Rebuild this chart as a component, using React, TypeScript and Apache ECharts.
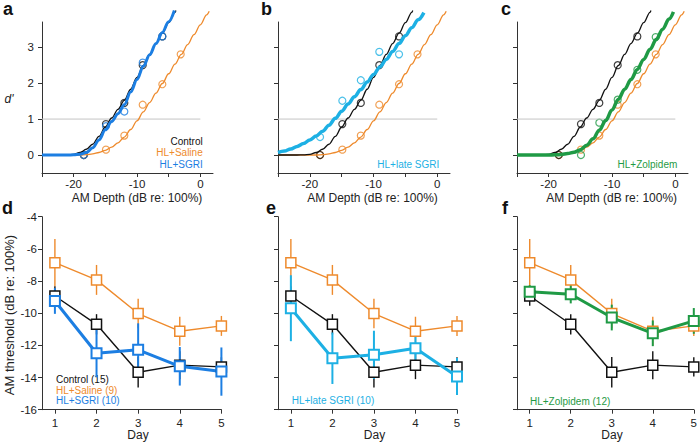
import React, { useEffect, useRef } from "react";
import * as echarts from "echarts";

// ---------- data ----------
const DEPTHS = [-18.4, -14.9, -12.0, -9.1, -6.0, -3.1];
const DP_CONTROL = [0.0, 0.86, 1.45, 2.5, 3.3];
const DP_SALINE = [0.0, 0.15, 0.54, 1.4, 1.97, 2.8];
const DP_SGRI = [0.0, 0.8, 1.21, 2.57, 3.3];
const DP_LATE = [0.5, 1.51, 2.08, 2.87, 2.8];
const DP_ZOL_DEPTHS = [-14.9, -12.0, -9.1, -6.0, -3.1];
const DP_ZOL = [0.0, 0.9, 1.54, 2.37, 3.28];

const FIT_CONTROL: number[][] = [[-25,0],[-22,0],[-21,0.004],[-20,0.02],[-19,0.07],[-18,0.16],[-17,0.3],[-16,0.52],[-15,0.78],[-14,1.03],[-13,1.27],[-12,1.52],[-11,1.83],[-10,2.16],[-9,2.49],[-8,2.8],[-7,3.1],[-6,3.39],[-5,3.68],[-4,3.97],[-3.85,4.02]];
const FIT_SALINE: number[][] = [[-25,0],[-19,0],[-18,0.01],[-17,0.03],[-16,0.07],[-15,0.13],[-14,0.22],[-13,0.34],[-12,0.5],[-11,0.71],[-10,0.95],[-9,1.2],[-8,1.46],[-7,1.72],[-6,1.99],[-5,2.26],[-4,2.53],[-3,2.8],[-2,3.07],[-1,3.35],[0,3.62],[1,3.9],[1.4,4.0]];
const FIT_SGRI: number[][] = [[-25,0],[-21,0],[-20,0.005],[-19,0.02],[-18,0.07],[-17,0.2],[-16,0.42],[-15,0.7],[-14,0.93],[-13,1.15],[-12,1.4],[-11,1.75],[-10,2.1],[-9,2.47],[-8,2.79],[-7,3.1],[-6,3.41],[-5,3.71],[-4.1,4.02]];
const FIT_LATE: number[][] = [[-25,0.07],[-24,0.11],[-23,0.17],[-22,0.24],[-21,0.32],[-20,0.42],[-19,0.53],[-18,0.66],[-17,0.83],[-16,1.02],[-15,1.22],[-14,1.42],[-13,1.62],[-12,1.82],[-11,2.03],[-10,2.24],[-9,2.45],[-8,2.66],[-7,2.88],[-6,3.1],[-5,3.32],[-4,3.54],[-3,3.76],[-2.1,3.96]];
const FIT_ZOL: number[][] = [[-25,0],[-20,0],[-19,0.005],[-18,0.015],[-17,0.04],[-16,0.08],[-15,0.15],[-14,0.27],[-13,0.45],[-12,0.69],[-11,0.96],[-10,1.25],[-9,1.55],[-8,1.83],[-7,2.1],[-6,2.38],[-5,2.66],[-4,2.94],[-3,3.22],[-2,3.5],[-1,3.78],[-0.3,3.98]];

const CRITERION = 1;
const CRIT_RANGE = [-25, 0];

const DAYS = [1, 2, 3, 4, 5];
const THR_CONTROL = [-8.93, -10.69, -13.67, -13.23, -13.34];
const ERR_CONTROL = [0.6, 0.63, 0.95, 0.87, 0.6];
const THR_SALINE = [-6.86, -7.93, -10.02, -11.12, -10.79];
const ERR_SALINE = [1.47, 0.93, 0.92, 0.9, 0.62];
const THR_SGRI = [-9.24, -12.49, -12.28, -13.3, -13.63];
const ERR_SGRI = [0.8, 1.5, 1.65, 1.2, 1.5];
const THR_LATE = [-9.69, -12.8, -12.59, -12.18, -13.94];
const ERR_LATE = [2.05, 1.6, 1.5, 0.9, 1.15];
const THR_ZOL = [-8.66, -8.82, -10.27, -11.25, -10.48];
const ERR_ZOL = [0.4, 0.57, 0.8, 0.8, 0.8];

const X_TICKS_TOP = [-25, -20, -15, -10, -5, 0];
const X_LABELS_TOP = [-20, -10, 0];
const Y_TICKS_TOP = [0, 1, 2, 3];

// ---------- style ----------
const FONT = "'Liberation Sans', Arial, sans-serif";
const BLACK = "#111111";
const ORANGE = "#EE8A2C";
const BLUE = "#1C7EE2";
const CYAN = "#1DB0E4";
const GREEN = "#1F9A45";
const AXIS = "#333333";

const zip = (xs: number[], ys: number[]) => ys.map((y, i) => [xs[i], y]);

function buildOption() {
  const grids = [
    { left: 42, top: 22, width: 171, height: 151 },
    { left: 278, top: 22, width: 172, height: 151 },
    { left: 517, top: 22, width: 171, height: 151 },
    { left: 42, top: 216.7, width: 179.4, height: 193 },
    { left: 278, top: 216.7, width: 179, height: 193 },
    { left: 517, top: 216.7, width: 178.5, height: 193 },
  ];
  const axisLine = { show: true, onZero: false, lineStyle: { color: AXIS, width: 1 } };
  const labelStyle = { fontSize: 11.5, color: "#222", fontFamily: FONT };

  const xAxis: any[] = [];
  const yAxis: any[] = [];
  for (let i = 0; i < 3; i++) {
    xAxis.push({
      gridIndex: i, type: "value", min: -25, max: 2,
      axisLine, splitLine: { show: false },
      axisTick: { show: true, customValues: X_TICKS_TOP, length: 4, lineStyle: { color: AXIS } },
      axisLabel: { show: true, customValues: X_LABELS_TOP, margin: 5, ...labelStyle },
    });
    yAxis.push({
      gridIndex: i, type: "value", min: -0.5, max: 3.7,
      axisLine, splitLine: { show: false },
      axisTick: { show: true, customValues: Y_TICKS_TOP, length: 4, lineStyle: { color: AXIS } },
      axisLabel: { show: i === 0, customValues: Y_TICKS_TOP, margin: 8, ...labelStyle },
    });
  }
  for (let i = 3; i < 6; i++) {
    xAxis.push({
      gridIndex: i, type: "value", min: 0.69, max: 5,
      axisLine, splitLine: { show: false },
      axisTick: { show: true, customValues: DAYS, length: 4, lineStyle: { color: AXIS } },
      axisLabel: { show: true, customValues: DAYS, margin: 7, ...labelStyle },
    });
    yAxis.push({
      gridIndex: i, type: "value", min: -16, max: -4, interval: 2,
      axisLine, splitLine: { show: false },
      axisTick: { show: true, length: 4, lineStyle: { color: AXIS } },
      axisLabel: { show: i === 3, margin: 5, ...labelStyle },
    });
  }

  const series: any[] = [];
  const curve = (idx: number, data: number[][], color: string, width: number) =>
    series.push({
      type: "line", xAxisIndex: idx, yAxisIndex: idx, data, smooth: 0.35, smoothMonotone: "x",
      symbol: "none", showSymbol: false, clip: false, silent: true,
      lineStyle: { color, width },
    });
  const pts = (idx: number, xs: number[], ys: number[], color: string) =>
    series.push({
      type: "scatter", xAxisIndex: idx, yAxisIndex: idx, data: zip(xs, ys), symbol: "circle",
      symbolSize: 7, clip: false, silent: true,
      itemStyle: { color: "rgba(255,255,255,0)", borderColor: color, borderWidth: 1.2 },
    });
  const crit = (idx: number) =>
    series.push({
      type: "line", xAxisIndex: idx, yAxisIndex: idx, symbol: "none", silent: true,
      data: CRIT_RANGE.map((x) => [x, CRITERION]),
      lineStyle: { color: "#c4c4c4", width: 1 },
    });
  const group = (idx: number, vals: number[], errs: number[], color: string, lw: number, ew: number, bw: number) => {
    series.push({
      type: "custom", xAxisIndex: idx, yAxisIndex: idx, silent: true, clip: false,
      data: DAYS.map((d, i) => [d, vals[i] - errs[i], vals[i] + errs[i]]),
      encode: { x: 0, y: [1, 2] },
      renderItem: (_p: any, api: any) => {
        const lo = api.coord([api.value(0), api.value(1)]);
        const hi = api.coord([api.value(0), api.value(2)]);
        return {
          type: "line",
          shape: { x1: lo[0], y1: lo[1], x2: hi[0], y2: hi[1] },
          style: { stroke: color, lineWidth: ew },
        };
      },
    });
    series.push({
      type: "line", xAxisIndex: idx, yAxisIndex: idx, silent: true, clip: false,
      data: zip(DAYS, vals), symbol: "rect", symbolSize: 10, showSymbol: true,
      itemStyle: { color: "#ffffff", borderColor: color, borderWidth: bw },
      lineStyle: { color, width: lw },
    });
  };

  // panel a
  crit(0);
  curve(0, FIT_SALINE, ORANGE, 1.3);
  curve(0, FIT_CONTROL, BLACK, 1.3);
  curve(0, FIT_SGRI, BLUE, 3);
  pts(0, DEPTHS, DP_SALINE, ORANGE);
  pts(0, DEPTHS, DP_CONTROL, BLACK);
  pts(0, DEPTHS, DP_SGRI, BLUE);
  // panel b
  crit(1);
  curve(1, FIT_SALINE, ORANGE, 1.3);
  curve(1, FIT_CONTROL, BLACK, 1.3);
  curve(1, FIT_LATE, CYAN, 3.5);
  pts(1, DEPTHS, DP_SALINE, ORANGE);
  pts(1, DEPTHS, DP_CONTROL, BLACK);
  pts(1, DEPTHS, DP_LATE, CYAN);
  // panel c
  crit(2);
  curve(2, FIT_SALINE, ORANGE, 1.3);
  curve(2, FIT_CONTROL, BLACK, 1.3);
  curve(2, FIT_ZOL, GREEN, 3.5);
  pts(2, DEPTHS, DP_SALINE, ORANGE);
  pts(2, DP_ZOL_DEPTHS, DP_ZOL, GREEN);
  pts(2, DEPTHS, DP_CONTROL, BLACK);
  // panel d
  group(3, THR_SALINE, ERR_SALINE, ORANGE, 1.4, 1.4, 1.5);
  group(3, THR_CONTROL, ERR_CONTROL, BLACK, 1.4, 1.4, 1.5);
  group(3, THR_SGRI, ERR_SGRI, BLUE, 3, 2, 2);
  // panel e
  group(4, THR_SALINE, ERR_SALINE, ORANGE, 1.4, 1.4, 1.5);
  group(4, THR_CONTROL, ERR_CONTROL, BLACK, 1.4, 1.4, 1.5);
  group(4, THR_LATE, ERR_LATE, CYAN, 3, 2, 2);
  // panel f
  group(5, THR_SALINE, ERR_SALINE, ORANGE, 1.4, 1.4, 1.5);
  group(5, THR_CONTROL, ERR_CONTROL, BLACK, 1.4, 1.4, 1.5);
  group(5, THR_ZOL, ERR_ZOL, GREEN, 3, 2, 2);

  const txt = (text: string, x: number, y: number, opts: any = {}) => ({
    type: "text", x, y, silent: true, rotation: opts.rotation || 0,
    style: {
      text, fill: opts.fill || "#222", fontSize: opts.size || 12, fontFamily: FONT,
      fontWeight: opts.weight || "normal", fontStyle: opts.style || "normal",
      align: opts.align || "center", verticalAlign: "middle",
    },
  });

  const graphic: any[] = [
    txt("a", 3, 9, { size: 18, weight: "bold", align: "left", fill: "#111" }),
    txt("b", 261, 9, { size: 18, weight: "bold", align: "left", fill: "#111" }),
    txt("c", 501, 9, { size: 18, weight: "bold", align: "left", fill: "#111" }),
    txt("d", 2, 208, { size: 18, weight: "bold", align: "left", fill: "#111" }),
    txt("e", 266, 208, { size: 18, weight: "bold", align: "left", fill: "#111" }),
    txt("f", 502, 208, { size: 18, weight: "bold", align: "left", fill: "#111" }),
    txt("d'", 9, 99, { style: "italic", size: 12 }),
    txt("AM Depth (dB re: 100%)", 137, 198),
    txt("AM Depth (dB re: 100%)", 372.5, 198),
    txt("AM Depth (dB re: 100%)", 611.7, 198),
    txt("Day", 138, 435),
    txt("Day", 374.5, 435),
    txt("Day", 612, 435),
    txt("AM threshold (dB re: 100%)", 9, 315, { rotation: Math.PI / 2, size: 13 }),
    txt("Control", 202.7, 141.7, { align: "right", size: 10, fill: BLACK }),
    txt("HL+Saline", 202.7, 152.9, { align: "right", size: 10, fill: ORANGE }),
    txt("HL+SGRI", 202.7, 164.3, { align: "right", size: 10, fill: BLUE }),
    txt("HL+late SGRI", 439.3, 164.3, { align: "right", size: 10, fill: CYAN }),
    txt("HL+Zolpidem", 677.3, 164.3, { align: "right", size: 10, fill: GREEN }),
    txt("Control (15)", 56, 379, { align: "left", size: 10, fill: BLACK }),
    txt("HL+Saline (9)", 56, 390, { align: "left", size: 10, fill: ORANGE }),
    txt("HL+SGRI (10)", 56, 400.7, { align: "left", size: 10, fill: BLUE }),
    txt("HL+late SGRI (10)", 291.7, 400.5, { align: "left", size: 10, fill: CYAN }),
    txt("HL+Zolpidem (12)", 530, 401.5, { align: "left", size: 10, fill: GREEN }),
  ];

  return {
    animation: false,
    backgroundColor: "#ffffff",
    grid: grids,
    xAxis,
    yAxis,
    series,
    graphic,
  };
}

export default function App() {
  const ref = useRef<HTMLDivElement>(null);
  useEffect(() => {
    if (!ref.current) return;
    const chart = echarts.init(ref.current, null, { renderer: "svg" });
    chart.setOption(buildOption() as any);
    return () => chart.dispose();
  }, []);
  return (
    <div
      ref={ref}
      style={{ position: "fixed", left: 0, top: 0, width: 700, height: 444, background: "#fff" }}
    />
  );
}
